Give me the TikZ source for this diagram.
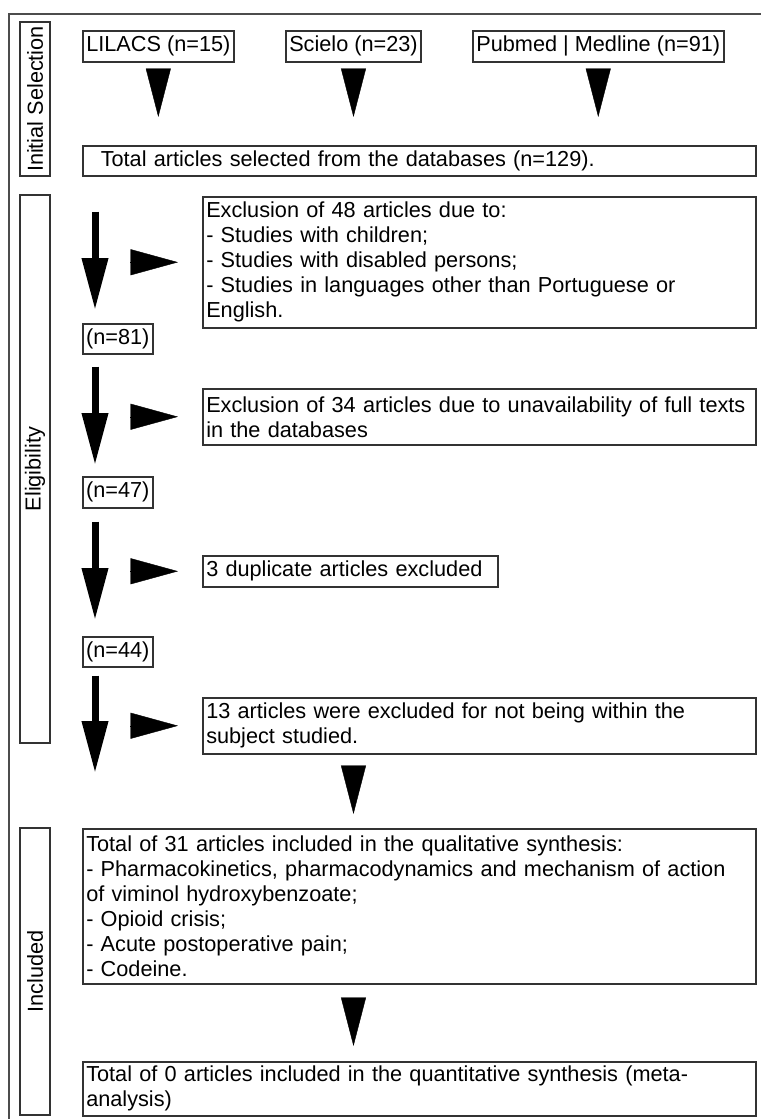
\documentclass[tikz,border=0pt]{standalone}
\usepackage{fontspec}
\setmainfont{Liberation Sans}
\usepackage{xcolor}
\usetikzlibrary{arrows.meta,calc}

\tikzset{
	box/.style={draw=black!80, line width=1.5pt, anchor=north west, inner xsep=3.5pt, inner ysep=2pt, align=left, text=black},
	sidebox/.style={draw=black!80, line width=1.5pt, minimum height=30pt, inner sep=0pt, rotate=90, text=black},
	bigarrow/.style={line width=7pt, -{Triangle[length=52pt,width=25pt]}},
	downtri/.style={line width=0.4pt, -{Triangle[length=48.5pt,width=25pt]}},
	sidetri/.style={line width=0.4pt, -{Triangle[length=47.5pt,width=26pt]}},
}

\begin{document}
\begin{tikzpicture}[x=1pt,y=-1pt,font=\fontsize{21.7pt}{25pt}\selectfont]
		\useasboundingbox (0,0) rectangle (761,1119);
		\draw[black!70, line width=1.2pt] (9,1119) -- (9,14) -- (761,14);

		% stages
		\node[sidebox, minimum width=154pt] (initial) at (35,99) {Initial Selection};
		\node[sidebox, minimum width=548pt] (elig) at (35,469) {Eligibility};
		\node[sidebox, minimum width=287pt] (incl) at (35,971.5) {Included};

		% databases
		\node[box, minimum width=150pt, minimum height=31pt, align=center] (lilacs) at (82,30) {LILACS (n=15)};
		\node[box, minimum width=135pt, minimum height=31pt, align=center] (scielo) at (285,30) {Scielo (n=23)};
		\node[box, minimum width=251pt, minimum height=31pt, align=center] (pubmed) at (472,30) {Pubmed | Medline (n=91)};
		\node[box, minimum height=30pt, text width=637pt, inner xsep=18pt] (total) at (82,145) {Total articles selected from the databases (n=129).};

		% counts and exclusions
		\node[box, minimum width=70pt, minimum height=30pt, inner xsep=2pt] (n81) at (82,323) {(n=81)};
		\node[box, minimum width=70pt, minimum height=31pt, inner xsep=2pt] (n47) at (82,476) {(n=47)};
		\node[box, minimum width=70pt, minimum height=30pt, inner xsep=2pt] (n44) at (82,636) {(n=44)};

		\node[box, minimum height=131pt, text width=546pt] (excl1) at (202,196) {Exclusion of 48 articles due to:\\- Studies with children;\\- Studies with disabled persons;\\- Studies in languages other than Portuguese or\\English.};
		\node[box, minimum height=56pt, text width=546pt] (excl2) at (202,388) {Exclusion of 34 articles due to unavailability of full texts\\in the databases};
		\node[box, minimum height=31pt, text width=288pt] (dup) at (202,555) {3 duplicate articles excluded};
		\node[box, minimum height=56pt, text width=546pt] (excl4) at (202,697) {13 articles were excluded for not being within the\\subject studied.};

		% included
		\node[box, minimum height=155pt, text width=666pt] (qual) at (82,828) {Total of 31 articles included in the qualitative synthesis:\\- Pharmacokinetics, pharmacodynamics and mechanism of action\\of viminol hydroxybenzoate;\\- Opioid crisis;\\- Acute postoperative pain;\\- Codeine.};
		\node[box, minimum height=54pt, text width=666pt] (quant) at (82,1061) {Total of 0 articles included in the quantitative synthesis (meta-\\analysis)};

		% arrows
		\coordinate (ax) at (95,0);
		\draw[downtri, shorten <=7pt, shorten >=28pt] (lilacs.south) -- (lilacs.south |- total.north);
		\draw[downtri, shorten <=7pt, shorten >=28pt] (scielo.south) -- (scielo.south |- total.north);
		\draw[downtri, shorten <=7pt, shorten >=28pt] (pubmed.south) -- (pubmed.south |- total.north);

		\draw[bigarrow, shorten <=35pt, shorten >=13pt] (total.south -| ax) -- (n81.north -| ax);
		\draw[bigarrow, shorten <=12pt, shorten >=11pt] (n81.south -| ax) -- (n47.north -| ax);
		\draw[bigarrow, shorten <=13pt, shorten >=16pt] (n47.south -| ax) -- (n44.north -| ax);
		\draw[bigarrow, shorten <=8pt, shorten >=55pt] (n44.south -| ax) -- (qual.north -| ax);

		\draw[sidetri, shorten <=35pt, shorten >=24pt] (excl1.west -| ax) -- (excl1.west);
		\draw[sidetri, shorten <=35pt, shorten >=24pt] (excl2.west -| ax) -- (excl2.west);
		\draw[sidetri, shorten <=35pt, shorten >=24pt] (dup.west -| ax) -- (dup.west);
		\draw[sidetri, shorten <=35pt, shorten >=24pt] (excl4.west -| ax) -- (excl4.west);

		\draw[downtri, shorten <=12pt, shorten >=14pt] (excl4.south -| scielo.south) -- (qual.north -| scielo.south);
		\draw[downtri, shorten <=14pt, shorten >=15pt] (qual.south -| scielo.south) -- (quant.north -| scielo.south);
	\end{tikzpicture}
\end{document}
